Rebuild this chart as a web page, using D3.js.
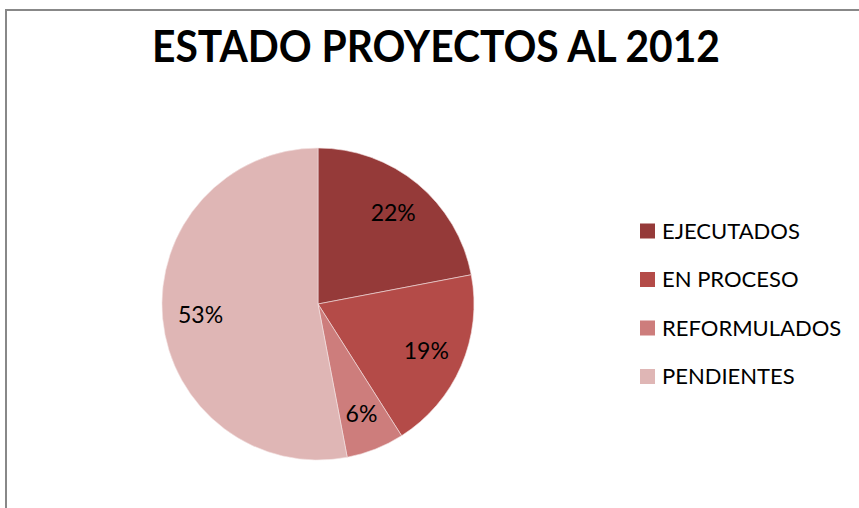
<!DOCTYPE html>
<html>
<head>
<meta charset="utf-8">
<script src="https://cdn.jsdelivr.net/npm/d3@7"></script>
<style>
  body { margin: 0; background: #fff; }
  svg text { font-family: Lato, "Open Sans", sans-serif; }
</style>
</head>
<body>
<svg id="chart" width="859" height="508"></svg>
<script>
// data
var categories = ["EJECUTADOS", "EN PROCESO", "REFORMULADOS", "PENDIENTES"]
var values = [22, 19, 6, 53]
var colors = ["#953a39", "#b44b48", "#cd7d7c", "#dfb6b5"]
var title = "ESTADO PROYECTOS AL 2012"

var svg = d3.select("#chart")

// chart frame (runs off the right and bottom edge)
svg.append("rect")
  .attr("x", 6)
  .attr("y", 10)
  .attr("width", 900)
  .attr("height", 600)
  .attr("fill", "white")
  .style("stroke", "#888")
  .style("stroke-width", 2)

svg.append("text")
  .attr("x", 436)
  .attr("y", 62)
  .attr("text-anchor", "middle")
  .attr("font-size", 44)
  .attr("font-weight", "bold")
  .attr("textLength", 568)
  .attr("lengthAdjust", "spacingAndGlyphs")
  .attr("fill", "#000")
  .text(title)

var data = categories.map(function(c, i) { return { name: c, value: values[i], color: colors[i] } })

var radius = 156
var pie = d3.pie().sort(null).value(function(d) { return d.value })
var arc = d3.arc().innerRadius(0).outerRadius(radius)
var labelArc = d3.arc().innerRadius(118).outerRadius(118)

var g = svg.append("g").attr("transform", "translate(318,304)")

var slices = g.selectAll("g.slice")
  .data(pie(data))
  .enter()
  .append("g")
  .attr("class", "slice")

slices.append("path")
  .attr("d", arc)
  .attr("fill", function(d) { return d.data.color })
  .style("stroke", "#f3e3e3")
  .style("stroke-width", 0.6)

slices.append("text")
  .attr("transform", function(d) { return "translate(" + labelArc.centroid(d) + ")" })
  .attr("text-anchor", "middle")
  .attr("dy", "0.36em")
  .attr("font-size", 23)
  .attr("fill", "#000")
  .text(function(d) { return d.data.value + "%" })

// legend
var legend = svg.append("g").attr("transform", "translate(640,231)")
var rows = legend.selectAll("g")
  .data(data)
  .enter()
  .append("g")
  .attr("transform", function(d, i) { return "translate(0," + (i * 48.5) + ")" })

rows.append("rect")
  .attr("x", 0)
  .attr("y", -7.5)
  .attr("width", 15)
  .attr("height", 15)
  .attr("fill", function(d) { return d.color })

rows.append("text")
  .attr("x", 22)
  .attr("y", 0)
  .attr("dy", "0.36em")
  .attr("font-size", 22)
  .attr("fill", "#000")
  .text(function(d) { return d.name })
</script>
</body>
</html>
